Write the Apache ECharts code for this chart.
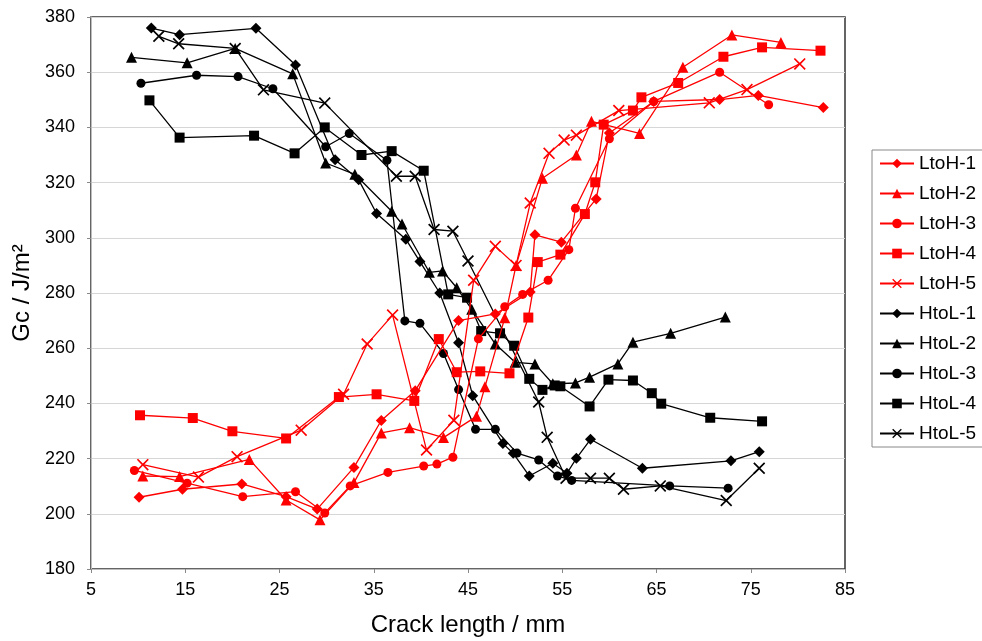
<!DOCTYPE html>
<html>
<head>
<meta charset="utf-8">
<script src="https://cdn.jsdelivr.net/npm/echarts@6/dist/echarts.min.js"></script>
<style>
  html, body { margin: 0; padding: 0; background: #fff; }
  #main { width: 982px; height: 641px; }
</style>
</head>
<body>
<div id="main"></div>
<script>
// [crack length, Gc] pairs
var ltoh1 = [[10.1,206.0],[14.7,208.9],[21.0,210.8],[25.7,206.2],[29.0,201.7],[32.9,216.8],[35.8,233.8],[39.4,244.6],[44.0,270.0],[47.9,272.4],[51.6,280.4],[52.1,301.1],[54.9,298.4],[58.6,314.1],[60.0,338.0],[64.7,349.4],[71.7,350.1],[75.8,351.6],[82.7,347.2]];
var ltoh2 = [[10.5,213.7],[14.4,213.5],[21.8,219.7],[25.7,205.0],[29.3,197.8],[32.9,211.3],[35.8,229.3],[38.8,231.2],[42.4,227.6],[45.9,235.3],[46.8,246.0],[48.9,271.0],[50.1,290.0],[52.9,321.6],[56.5,330.0],[58.1,342.2],[63.2,337.8],[67.8,361.8],[73.0,373.5],[78.2,370.8]];
var ltoh3 = [[9.6,215.7],[15.2,211.1],[21.1,206.2],[26.7,208.0],[29.8,200.3],[32.5,210.1],[36.5,215.0],[40.3,217.3],[41.7,218.0],[43.4,220.5],[46.1,263.4],[48.9,275.0],[50.8,279.5],[53.5,284.6],[55.7,295.7],[56.4,310.7],[60.0,335.9],[64.7,349.4],[71.7,360.0],[76.9,348.2]];
var ltoh4 = [[10.2,235.7],[15.8,234.7],[20.0,229.9],[25.7,227.3],[31.3,242.3],[35.3,243.3],[39.3,240.9],[41.9,263.3],[43.8,251.3],[46.3,251.6],[49.4,250.9],[51.4,271.1],[52.4,291.2],[54.8,293.9],[57.4,308.6],[58.5,320.1],[59.4,341.0],[62.5,346.1],[63.4,350.9],[67.3,356.1],[72.1,365.6],[76.2,369.0],[82.4,367.8]];
var ltoh5 = [[10.5,217.8],[16.4,213.3],[20.5,220.7],[27.3,230.3],[31.8,243.3],[34.3,261.5],[37.0,272.0],[40.6,223.1],[43.5,233.9],[45.6,284.6],[47.9,296.9],[50.1,290.0],[51.6,312.6],[53.6,330.6],[55.2,335.4],[56.5,337.2],[61.0,346.1],[70.6,348.9],[74.6,353.7],[80.2,363.0]];

var htol1 = [[11.4,376.0],[14.4,373.6],[22.5,375.9],[26.7,362.6],[30.9,328.3],[33.4,321.0],[35.3,308.8],[38.4,299.5],[39.9,291.4],[42.0,280.0],[44.0,262.0],[45.5,242.8],[48.7,225.5],[49.8,221.9],[51.5,213.7],[54.0,218.3],[55.5,214.7],[56.5,220.1],[58.0,227.0],[63.5,216.5],[72.9,219.2],[75.9,222.5]];
var htol2 = [[9.3,365.4],[15.2,363.4],[20.3,368.6],[26.4,359.4],[29.9,327.1],[33.0,323.0],[36.9,309.6],[38.0,305.0],[40.9,287.5],[42.3,288.0],[43.8,281.9],[45.4,274.1],[47.9,261.5],[50.0,254.9],[52.1,254.3],[54.0,247.1],[56.4,247.4],[57.9,249.5],[60.9,254.3],[62.5,262.2],[66.5,265.4],[72.3,271.3]];
var htol3 = [[10.3,356.0],[16.2,358.9],[20.6,358.4],[24.3,354.0],[29.9,333.0],[32.4,337.8],[36.4,328.1],[38.3,269.9],[39.9,269.0],[42.4,258.1],[44.0,245.0],[45.8,230.6],[47.9,230.6],[50.2,222.0],[52.5,219.5],[54.5,213.7],[56.0,212.1],[66.4,210.1],[72.6,209.3]];
var htol4 = [[11.2,349.8],[14.4,336.3],[22.3,337.0],[26.6,330.6],[29.8,340.0],[33.7,330.0],[36.9,331.4],[40.3,324.3],[42.9,279.5],[44.9,278.3],[46.4,266.2],[48.4,265.4],[49.9,260.9],[51.5,248.9],[52.9,244.9],[54.2,246.5],[54.8,246.2],[57.9,238.9],[59.9,248.6],[62.5,248.3],[64.5,243.7],[65.5,239.9],[70.7,234.8],[76.2,233.5]];
var htol5 = [[12.2,373.0],[14.3,370.3],[20.3,368.6],[23.3,353.6],[29.8,348.8],[37.4,322.3],[39.4,322.3],[41.4,303.0],[43.4,302.4],[45.0,291.6],[52.5,240.5],[53.4,227.7],[55.4,212.9],[58.0,212.9],[60.0,212.9],[61.5,208.9],[65.4,210.1],[72.4,204.8],[75.9,216.5]];

var names = ['LtoH-1','LtoH-2','LtoH-3','LtoH-4','LtoH-5','HtoL-1','HtoL-2','HtoL-3','HtoL-4','HtoL-5'];

var cross = 'path://M0,1L1,0L5,4L9,0L10,1L6,5L10,9L9,10L5,6L1,10L0,9L4,5Z';
var shapes = ['diamond', 'triangle', 'circle', 'rect', cross];
var sizes = [11, 11, 9, 10, 12];

var allData = [ltoh1, ltoh2, ltoh3, ltoh4, ltoh5, htol1, htol2, htol3, htol4, htol5];

var font = 'Liberation Sans, Arial, sans-serif';

var series = allData.map(function (d, i) {
    var col = i < 5 ? '#ff0000' : '#000000';
    return {
        name: names[i],
        type: 'line',
        data: d,
        symbol: shapes[i % 5],
        symbolSize: sizes[i % 5],
        showAllSymbol: true,
        lineStyle: { color: col, width: 1.3 },
        itemStyle: { color: col },
        z: i < 5 ? 3 : 2
    };
});

var chart = echarts.init(document.getElementById('main'));
chart.setOption({
    backgroundColor: '#fff',
    animation: false,
    grid: {
        left: 91, right: 137, top: 17, bottom: 72,
        outerBoundsMode: 'none',
        show: true, borderColor: '#333', borderWidth: 1.5, backgroundColor: '#fff'
    },
    legend: {
        orient: 'vertical',
        left: 872, top: 150,
        data: names,
        itemWidth: 34, itemHeight: 12, itemGap: 11,
        padding: [4, 8, 4, 7],
        borderColor: '#888', borderWidth: 1,
        textStyle: { fontFamily: font, fontSize: 19, color: '#000' }
    },
    xAxis: {
        type: 'value', min: 5, max: 85, interval: 10,
        name: 'Crack length / mm', nameLocation: 'middle', nameGap: 44,
        nameTextStyle: { fontFamily: font, fontSize: 24, color: '#000' },
        axisLine: { lineStyle: { color: '#bdbdbd', width: 1 } },
        axisTick: { show: true, length: 4, lineStyle: { color: '#888' } },
        splitLine: { show: false },
        axisLabel: { fontFamily: font, fontSize: 18, color: '#000', margin: 12 }
    },
    yAxis: {
        type: 'value', min: 180, max: 380, interval: 20,
        name: 'Gc / J/m²', nameLocation: 'middle', nameGap: 57, nameRotate: 90,
        nameTextStyle: { fontFamily: font, fontSize: 24, color: '#000' },
        axisLine: { show: true, lineStyle: { color: '#bdbdbd', width: 1 } },
        axisTick: { show: true, length: 4, lineStyle: { color: '#888' } },
        splitLine: { lineStyle: { color: '#d6d6d6', width: 1 } },
        axisLabel: { fontFamily: font, fontSize: 18, color: '#000', margin: 16 }
    },
    series: series
});
</script>
</body>
</html>
